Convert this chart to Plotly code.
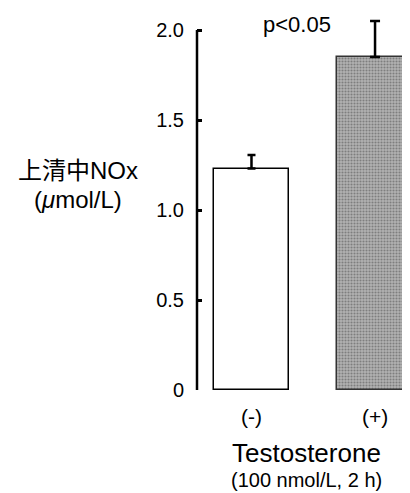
import plotly.graph_objects as go

# Data
categories = ["(-)", "(+)"]
x_pos = [0, 1]
values = [1.23, 1.85]
errors = [0.075, 0.20]
tick_vals = [0, 0.5, 1.0, 1.5, 2.0]
tick_text = ["0", "0.5", "1.0", "1.5", "2.0"]

FONT = "Liberation Sans, Arial, Noto Sans CJK JP, sans-serif"

fig = go.Figure()
fig.add_trace(go.Bar(
    x=[x_pos[0]], y=[values[0]], width=0.61,
    marker=dict(color="white", line=dict(color="black", width=1.5)),
    error_y=dict(type="data", symmetric=False, array=[errors[0]], arrayminus=[0],
                 color="black", thickness=2.5, width=4),
    showlegend=False,
))
fig.add_trace(go.Bar(
    x=[x_pos[1]], y=[values[1]], width=0.61,
    marker=dict(color="#a0a0a0", line=dict(color="#333333", width=1.5),
                pattern=dict(shape=".", fgcolor="#4a4a4a", bgcolor="#b2b2b2",
                             size=3, solidity=0.4)),
    error_y=dict(type="data", symmetric=False, array=[errors[1]], arrayminus=[0],
                 color="black", thickness=2.5, width=5),
    showlegend=False,
))

# y axis line from 0 to 2.0
fig.add_shape(type="line", xref="paper", yref="y", x0=0, x1=0, y0=0, y1=2.0,
              line=dict(color="black", width=2.5))

# page body has an 8px margin: compensate so the plot sits like the reference
fig.update_layout(
    width=402, height=485,
    margin=dict(l=189, r=0, t=4, b=103),
    paper_bgcolor="white", plot_bgcolor="white",
    font=dict(family=FONT, color="black"),
    bargap=0,
    xaxis=dict(range=[-0.441, 1.283], tickvals=x_pos, ticktext=categories,
               showline=False, showgrid=False, zeroline=False, ticks="",
               tickfont=dict(size=21), ticklabelstandoff=12),
    yaxis=dict(range=[0, 2.1], tickvals=tick_vals, ticktext=tick_text,
               showline=False, showgrid=False, zeroline=False,
               ticks="inside", ticklen=5, tickwidth=2.5, tickcolor="black",
               tickfont=dict(size=20), ticklabelstandoff=12),
)

annos = [
    dict(text="p<0.05", x=0.469, y=0.966, size=22),
    dict(text="上清中NOx", x=-0.559, y=0.582, size=24),
    dict(text="(<i>μ</i>mol/L)", x=-0.559, y=0.503, size=24),
]
for a in annos:
    fig.add_annotation(text=a["text"], xref="paper", yref="paper", x=a["x"], y=a["y"],
                       xanchor="center", yanchor="middle", showarrow=False,
                       font=dict(size=a["size"], family=FONT, color="black"))
fig.add_annotation(text="Testosterone", xref="paper", yref="paper", x=0.512, y=0,
                   yshift=-63, xanchor="center", yanchor="middle", showarrow=False,
                   font=dict(size=26, family=FONT, color="black"))
fig.add_annotation(text="(100 nmol/L, 2 h)", xref="paper", yref="paper", x=0.512, y=0,
                   yshift=-90, xanchor="center", yanchor="middle", showarrow=False,
                   font=dict(size=20, family=FONT, color="black"))

fig.write_html("out.html")
